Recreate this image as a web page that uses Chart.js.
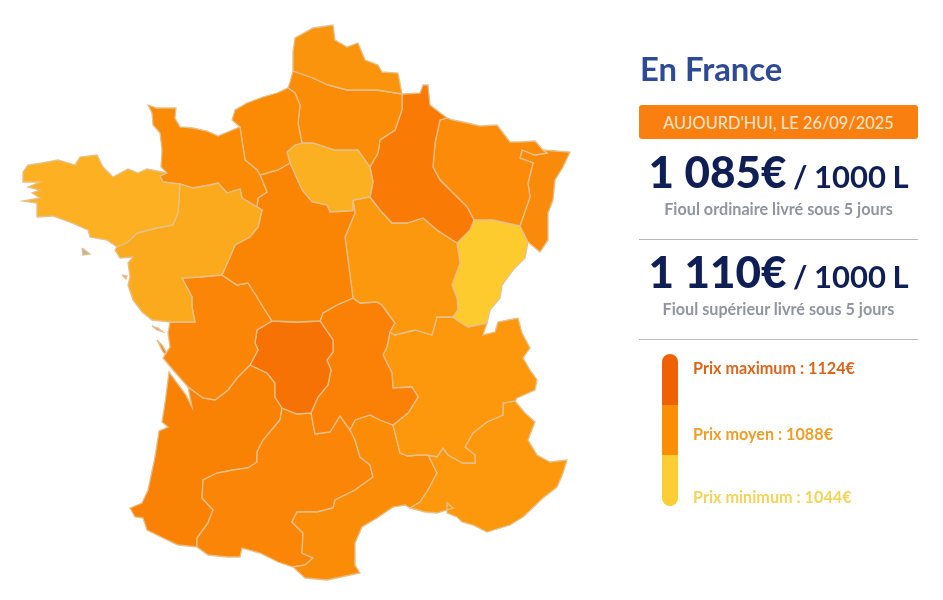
<!DOCTYPE html>
<html lang="fr">
<head>
<meta charset="utf-8">
<title>Prix du fioul en France</title>
<script src="https://cdn.jsdelivr.net/npm/chart.js@4"></script>
<style>
    html, body { margin: 0; padding: 0; background: #fff; }
    #page { position: relative; width: 943px; height: 600px; overflow: hidden; font-family: Lato, sans-serif; }
    #map { position: absolute; left: 0; top: 0; }
    .txt { position: absolute; white-space: nowrap; }
    #title { left: 640px; top: 50px; font-size: 32.8px; font-weight: 700; color: #2f4a94; line-height: 38px; }
    #banner { left: 639px; top: 105px; width: 279px; height: 34px; line-height: 35px; border-radius: 3px; background: #f98010; color: #fde8cf; font-size: 16.4px; text-align: center; }
    .price { left: 639px; width: 279px; text-align: center; color: #0f1f55; font-size: 31px; font-weight: 700; line-height: 50px; word-spacing: -1px; }
    .price b { font-size: 44px; font-weight: 900; word-spacing: 0; }
    .sub { left: 639px; width: 279px; text-align: center; color: #8f94a0; font-size: 16.2px; font-weight: 700; line-height: 20px; }
    .rule { position: absolute; left: 639px; width: 279px; height: 1px; background: #b7b9be; }
    .scale { position: absolute; left: 662px; width: 16px; }
    .lg { left: 693px; font-size: 16.2px; font-weight: 700; line-height: 20px; }
</style>
</head>
<body>
<div id="page">
    <canvas id="map" width="943" height="600"></canvas>
</div>
<script>
// texts of the right panel
const panelTitle = "En France";
const bannerText = "AUJOURD'HUI, LE 26/09/2025";
const priceValues = ["1 085€", "1 110€"];
const priceUnit = " / 1000 L";
const priceNames = ["Fioul ordinaire livré sous 5 jours", "Fioul supérieur livré sous 5 jours"];
const legendLabels = ["Prix maximum : 1124€", "Prix moyen : 1088€", "Prix minimum : 1044€"];
const legendColors = ["#ef6203", "#fb8e05", "#fdce33"];
const legendTextColors = ["#d9661c", "#ee9f2b", "#f2d45c"];

// map outlines, one list per stretch of border
const cBN = [[167,173],[161,167],[162,150],[160,133],[153,125],[152,113],[148,105],[157,108],[170,108],[176,108],[175,118],[180,127],[193,128],[207,131],[218,136],[230,131],[240,127]];
const cHN = [[240,127],[232,120],[235,110],[247,103],[263,97],[277,93],[288,88]];
const cPic = [[288,88],[290,82],[293,71]];
const cNord = [[293,71],[293,52],[295,38],[313,28],[333,25],[335,40],[347,47],[358,43],[365,60],[378,65],[382,72],[398,73],[402,94]];
const cChamp = [[402,94],[420,93],[423,85],[428,85],[430,105],[447,118]];
const cLor = [[447,118],[453,120],[463,122],[480,126],[497,125],[510,142],[520,142],[535,141],[543,150]];
const cAls = [[543,150],[570,152],[563,167],[555,180],[553,200],[548,213],[548,240],[540,252],[528,242]];
const cFC = [[528,242],[527,247],[525,258],[513,270],[502,285],[500,298],[490,310],[487,323]];
const cRhA = [[515,401],[517,398],[535,390],[537,380],[530,370],[523,358],[530,348],[522,333],[518,318],[498,322],[495,332],[483,335],[487,323]];
const cPACA = [[515,401],[525,413],[535,422],[528,440],[537,455],[550,462],[567,460],[563,473],[557,487],[543,498],[523,517],[510,525],[487,532],[473,525],[462,522],[457,517],[447,513],[447,503],[453,508],[437,513],[425,512],[410,508]];
const cLang = [[293,567],[305,578],[327,580],[360,573],[355,565],[355,543],[362,527],[377,518],[393,507],[405,505],[410,508]];
const cMidi = [[197,547],[208,555],[227,557],[240,557],[242,548],[260,553],[278,562],[293,567]];
const cAq = [[188,387],[192,407],[186,395],[169,372],[165,403],[162,422],[168,427],[159,431],[155,457],[148,490],[142,503],[130,508],[135,517],[143,518],[147,530],[163,538],[178,545],[197,547]];
const cPoi = [[170,322],[168,333],[170,347],[163,358],[173,370],[188,387]];
const cPdL = [[117,247],[115,250],[120,258],[133,257],[128,263],[130,277],[128,285],[133,300],[142,312],[152,320],[170,322]];
const cBre = [[167,173],[147,169],[138,173],[128,169],[113,177],[103,167],[97,155],[80,157],[75,165],[65,162],[58,160],[42,163],[28,165],[23,172],[23,182],[40,182],[28,187],[40,190],[32,193],[40,198],[23,201],[37,203],[37,217],[53,216],[72,223],[88,230],[90,237],[107,240],[117,247]];

const bNordPic = [[293,71],[313,78],[328,85],[347,90],[377,90],[402,94]];
const bHNPic = [[288,88],[295,93],[300,105],[298,123],[302,143]];
const bHNIdF = [[302,143],[295,145],[287,152],[290,163]];
const bIdFPic = [[302,143],[313,143],[335,150],[358,150],[370,167]];
const bHNCen = [[290,163],[278,170],[260,175]];
const bHNBN = [[240,127],[243,147],[245,160],[257,170],[260,175]];
const bBNCen = [[260,175],[267,192],[258,198],[257,207]];
const bBNPdL = [[180,184],[193,188],[210,185],[218,183],[227,193],[240,189],[242,198],[257,207]];
const bBNBre = [[167,173],[160,176],[163,182],[170,183],[180,184]];
const bBrePdL = [[117,247],[128,242],[137,233],[157,228],[173,225],[178,213],[180,184]];
const bPoiPdL = [[222,275],[200,277],[182,278],[192,297],[192,307],[195,322],[170,322]];
const bPdLCen = [[257,207],[262,210],[258,227],[250,237],[235,245],[230,257],[222,275]];
const bPoiCen = [[222,275],[237,285],[248,283],[257,297],[263,307],[272,321]];
const bCenLim = [[272,321],[297,322],[320,321]];
const bCenAuv = [[320,321],[323,313],[337,305],[353,298]];
const bCenBou = [[353,298],[348,260],[345,237],[355,213],[353,200]];
const bCenIdF = [[353,200],[353,211],[330,212],[327,205],[312,202],[302,190],[290,163]];
const bIdFCha = [[370,167],[373,182],[370,197]];
const bIdFBou = [[370,197],[353,200]];
const bPicCha = [[402,94],[402,110],[395,130],[380,140],[378,153],[370,167]];
const bChaLor = [[447,118],[440,120],[435,143],[433,167],[440,180],[457,197],[467,207],[474,220]];
const bChaFC = [[474,220],[470,230],[457,243]];
const bChaBou = [[370,197],[380,210],[392,223],[407,223],[423,218],[437,230],[457,243]];
const bLorAls = [[543,150],[547,153],[535,155],[522,150],[520,158],[533,163],[528,183],[530,197],[520,226]];
const bLorFC = [[474,220],[493,220],[520,226]];
const bAlsFC = [[520,226],[528,242]];
const bFCRhA = [[487,323],[468,327],[457,320],[453,317]];
const bFCBou = [[457,243],[460,263],[452,285],[457,298],[458,310],[453,317]];
const bBouAuv = [[353,298],[360,303],[377,302],[382,305],[395,323],[390,332]];
const bBouRhA = [[390,332],[395,335],[415,330],[432,335],[437,317],[453,317]];
const bAuvRhA = [[390,332],[387,347],[383,355],[392,373],[393,388],[412,387],[418,397],[408,413],[393,425]];
const bAuvLan = [[393,425],[380,420],[370,415],[355,420],[350,430]];
const bAuvMid = [[350,430],[340,416],[330,432],[315,434],[311,413]];
const bLimAuv = [[320,321],[333,340],[333,352],[327,360],[331,370],[328,385],[318,397],[311,413]];
const bLimMid = [[311,413],[297,414],[282,408]];
const bLimAq = [[282,408],[275,397],[275,383],[267,373],[250,365]];
const bLimPoi = [[272,321],[257,330],[255,343],[258,350],[250,365]];
const bPoiAq = [[250,365],[237,378],[228,390],[215,400],[203,398],[188,387]];
const bAqMid = [[197,547],[197,538],[208,523],[213,510],[202,498],[203,480],[217,473],[233,470],[248,468],[257,462],[257,452],[263,440],[280,420],[282,408]];
const bMidLan = [[350,430],[355,440],[360,457],[370,465],[373,477],[355,490],[335,500],[333,508],[317,512],[297,512],[292,522],[303,533],[302,553],[313,558],[305,565],[293,567]];
const bLanPACA = [[410,508],[420,502],[428,490],[437,473],[428,455]];
const bLanRhA = [[393,425],[400,453],[408,456],[418,455],[428,455]];
const bRhAPACA = [[428,455],[437,457],[443,448],[448,455],[463,463],[475,463],[475,455],[465,447],[473,433],[487,422],[503,415],[503,403],[515,401]];

const ileRe = [[152,326],[158,328],[163,332],[157,330],[152,326]];
const ileOleron = [[157,340],[162,345],[170,358],[163,352],[157,340]];
const belleIle = [[82,248],[90,254],[83,255],[82,248]];
const noirmoutier = [[122,275],[127,276],[126,279],[122,275]];

const rev = a => [...a].reverse();

const regions = [
    { name: "Bretagne", color: "#fdb022", path: [...cBre, ...bBrePdL, ...rev(bBNBre)] },
    { name: "Pays de la Loire", color: "#fbaa1e", path: [...cPdL, ...rev(bPoiPdL), ...rev(bPdLCen), ...rev(bBNPdL), ...rev(bBrePdL)] },
    { name: "Basse-Normandie", color: "#fb8b05", path: [...cBN, ...bHNBN, ...bBNCen, ...rev(bBNPdL), ...rev(bBNBre)] },
    { name: "Haute-Normandie", color: "#fb8b05", path: [...cHN, ...bHNPic, ...bHNIdF, ...bHNCen, ...rev(bHNBN)] },
    { name: "Nord", color: "#fb940d", path: [...cNord, ...rev(bNordPic)] },
    { name: "Picardie", color: "#fb8c07", path: [...cPic, ...bNordPic, ...bPicCha, ...rev(bIdFPic), ...rev(bHNPic)] },
    { name: "Centre", color: "#fa8505", path: [...bHNCen, ...bBNCen, ...bPdLCen, ...bPoiCen, ...bCenLim, ...bCenAuv, ...bCenBou, ...bCenIdF] },
    { name: "Ile-de-France", color: "#fbb022", path: [...bIdFPic, ...bIdFCha, ...bIdFBou, ...bCenIdF, ...rev(bHNIdF)] },
    { name: "Champagne", color: "#f97a05", path: [...cChamp, ...bChaLor, ...bChaFC, ...rev(bChaBou), ...rev(bIdFCha), ...rev(bPicCha)] },
    { name: "Lorraine", color: "#fb8b08", path: [...cLor, ...bLorAls, ...rev(bLorFC), ...rev(bChaLor)] },
    { name: "Alsace", color: "#fa8a0a", path: [...cAls, ...rev(bAlsFC), ...rev(bLorAls)] },
    { name: "Bourgogne", color: "#fc980e", path: [...bChaBou, ...bFCBou, ...rev(bBouRhA), ...rev(bBouAuv), ...bCenBou, ...rev(bIdFBou)] },
    { name: "Franche-Comté", color: "#fecb2f", path: [...bLorFC, ...bAlsFC, ...cFC, ...bFCRhA, ...rev(bFCBou), ...rev(bChaFC)] },
    { name: "Poitou-Charentes", color: "#fb8507", path: [...cPoi, ...rev(bPoiAq), ...rev(bLimPoi), ...rev(bPoiCen), ...bPoiPdL] },
    { name: "Limousin", color: "#f67205", path: [...bCenLim, ...bLimAuv, ...bLimMid, ...bLimAq, ...rev(bLimPoi)] },
    { name: "Auvergne", color: "#fb8006", path: [...bBouAuv, ...bAuvRhA, ...bAuvLan, ...bAuvMid, ...rev(bLimAuv), ...bCenAuv] },
    { name: "Rhône-Alpes", color: "#fd980c", path: [...bBouRhA, ...rev(bFCRhA), ...rev(cRhA), ...rev(bRhAPACA), ...rev(bLanRhA), ...rev(bAuvRhA)] },
    { name: "PACA", color: "#fd980c", path: [...bRhAPACA, ...cPACA, ...bLanPACA] },
    { name: "Languedoc-Roussillon", color: "#fb8c08", path: [...bMidLan, ...cLang, ...bLanPACA, ...rev(bLanRhA), ...bAuvLan] },
    { name: "Midi-Pyrénées", color: "#fb8507", path: [...bAqMid, ...rev(bLimMid), ...rev(bAuvMid), ...bMidLan, ...rev(cMidi)] },
    { name: "Aquitaine", color: "#f98205", path: [...cAq, ...bAqMid, ...bLimAq, ...bPoiAq] },
    { name: "Ré", color: "#b9b3a5", path: ileRe },
    { name: "Oléron", color: "#e8893a", path: ileOleron },
    { name: "Belle-Ile", color: "#b9b3a5", path: belleIle },
    { name: "Noirmoutier", color: "#b9b3a5", path: noirmoutier }
];

function addText(cls, html, top) {
    const div = document.createElement("div");
    div.className = "txt " + cls;
    div.innerHTML = html;
    if (top !== undefined) div.style.top = top + "px";
    document.getElementById("page").appendChild(div);
    return div;
}

function renderPanel() {
    const page = document.getElementById("page");
    const title = addText("", panelTitle);
    title.id = "title";
    const banner = addText("", bannerText);
    banner.id = "banner";

    const priceTops = [146, 246];
    const subTops = [199, 299];
    priceValues.forEach((value, i) => {
        addText("price", "<b>" + value + "</b>" + priceUnit, priceTops[i]);
        addText("sub", priceNames[i], subTops[i]);
    });

    [239, 339].forEach(top => {
        const rule = document.createElement("div");
        rule.className = "rule";
        rule.style.top = top + "px";
        page.appendChild(rule);
    });

    const stepTops = [354, 405, 455];
    const stepHeights = [51, 50, 51];
    const stepRadius = ["8px 8px 0 0", "0", "0 0 8px 8px"];
    const labelTops = [358, 424, 487];
    legendLabels.forEach((label, i) => {
        const step = document.createElement("div");
        step.className = "scale";
        step.style.top = stepTops[i] + "px";
        step.style.height = stepHeights[i] + "px";
        step.style.background = legendColors[i];
        step.style.borderRadius = stepRadius[i];
        page.appendChild(step);
        addText("lg", label, labelTops[i]).style.color = legendTextColors[i];
    });
}

function renderMap() {
    new Chart(document.getElementById("map"), {
        type: "scatter",
        data: {
            datasets: regions.map(region => ({
                label: region.name,
                data: [...region.path, region.path[0]].map(p => ({ x: p[0], y: p[1] })),
                showLine: true,
                fill: "shape",
                backgroundColor: region.color,
                borderColor: "#e6c08a",
                borderWidth: 1.3,
                tension: 0,
                pointRadius: 0
            }))
        },
        options: {
            responsive: false,
            animation: false,
            devicePixelRatio: 1,
            layout: { padding: 0 },
            plugins: { legend: { display: false }, tooltip: { enabled: false } },
            scales: {
                x: { type: "linear", min: 0, max: 943, display: false },
                y: { type: "linear", min: 0, max: 600, reverse: true, display: false }
            }
        }
    });
}

renderMap();
renderPanel();
</script>
</body>
</html>
